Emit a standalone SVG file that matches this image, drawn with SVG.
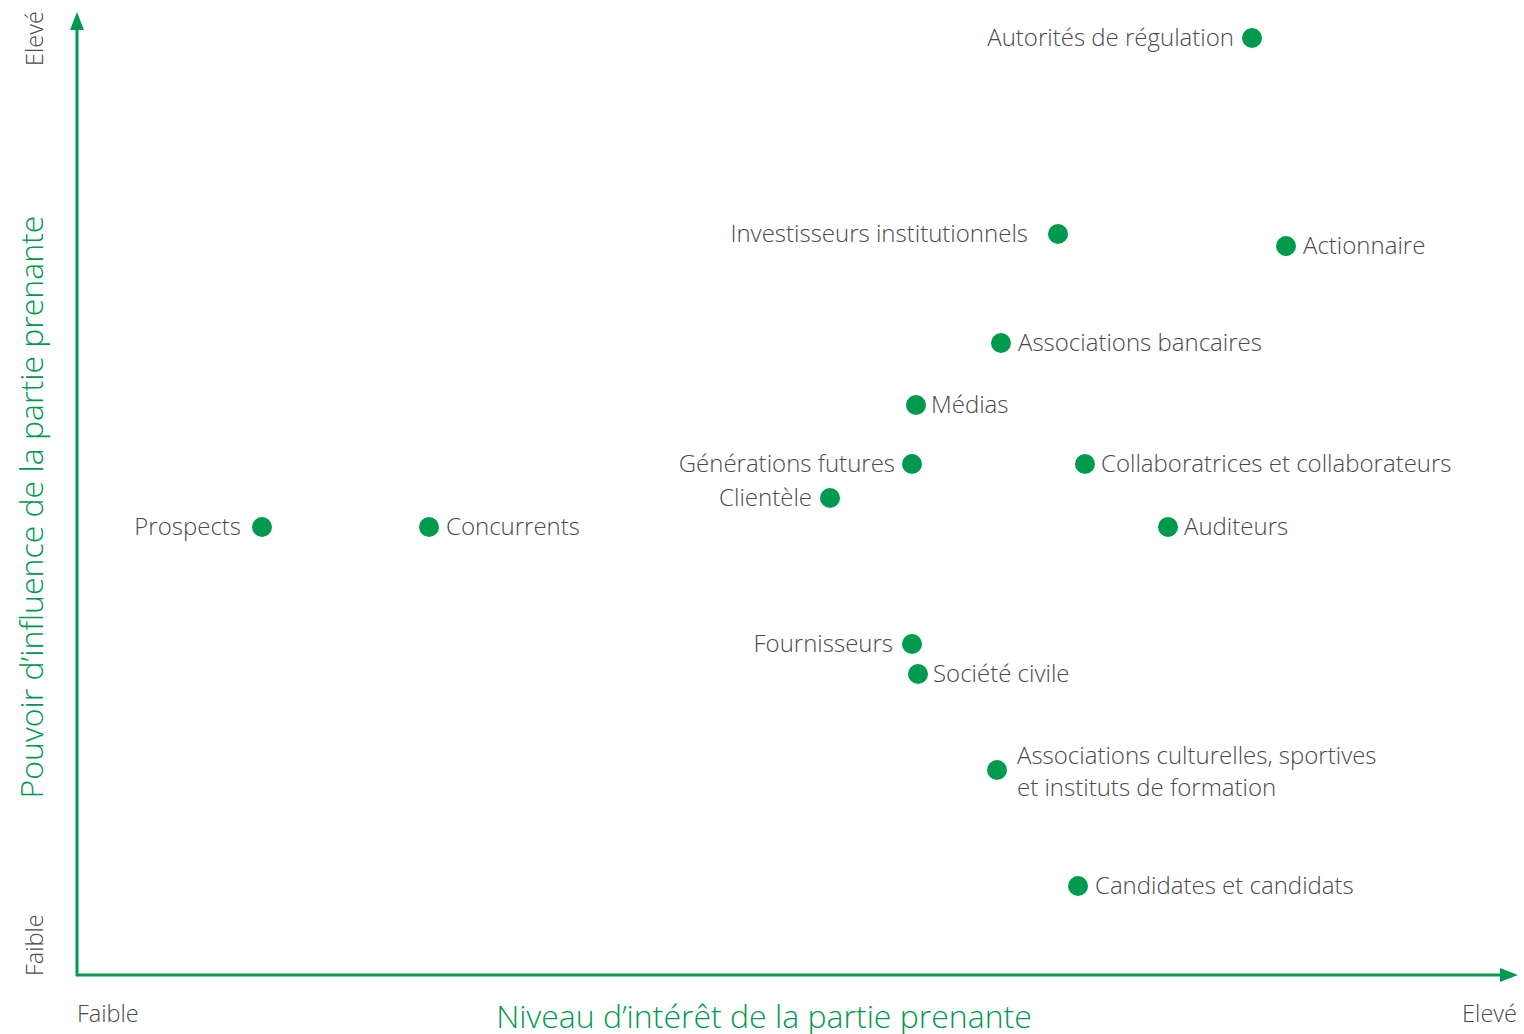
<svg xmlns="http://www.w3.org/2000/svg" width="1524" height="1034" viewBox="0 0 1524 1034">
<style>
.lbl{font-family:"Open Sans","Noto Sans","Liberation Sans",sans-serif;font-weight:300;font-size:24px;fill:#4a4a4a}
.end{text-anchor:end}
.ax{font-family:"Open Sans","Noto Sans","Liberation Sans",sans-serif;font-weight:300;font-size:23.5px;fill:#4a4a4a}
.title{font-family:"Open Sans","Noto Sans","Liberation Sans",sans-serif;font-weight:300;font-size:32px;fill:#009a4e;text-anchor:middle}
.dot{fill:#009a4e}
.axis{stroke:#009a4e;stroke-width:3;fill:none}
</style>
<defs>
<marker id="arrh" viewBox="0 0 18 14" markerWidth="18" markerHeight="14" refX="0" refY="7" orient="auto" markerUnits="userSpaceOnUse">
<path d="M0,0 L18,7 L0,14 Z" fill="#009a4e"/>
</marker>
</defs>
<rect width="1524" height="1034" fill="#ffffff"/>
<g id="connectors">
<line class="axis" x1="77" y1="976" x2="77" y2="30" marker-end="url(#arrh)"/>
<line class="axis" x1="76" y1="975" x2="1500" y2="975" marker-end="url(#arrh)"/>
</g>
<g id="axis-labels">
<text class="ax" transform="translate(43,66) rotate(-90)">Elevé</text>
<text class="ax" transform="translate(43,976) rotate(-90)">Faible</text>
<text class="ax" x="77" y="1022">Faible</text>
<text class="ax" x="1517" y="1022" text-anchor="end">Elevé</text>
<text class="title" transform="translate(43,507) rotate(-90)">Pouvoir d’influence de la partie prenante</text>
<text class="title" x="764" y="1028">Niveau d’intérêt de la partie prenante</text>
</g>
<g id="n-autorites"><circle class="dot" cx="1252" cy="38" r="10"/><text class="lbl end" x="1234" y="46">Autorités de régulation</text></g>
<g id="n-investisseurs"><circle class="dot" cx="1058" cy="234" r="10"/><text class="lbl end" x="1028" y="242">Investisseurs institutionnels</text></g>
<g id="n-actionnaire"><circle class="dot" cx="1286" cy="246" r="10"/><text class="lbl" x="1303" y="254">Actionnaire</text></g>
<g id="n-assoc-bancaires"><circle class="dot" cx="1001" cy="343" r="10"/><text class="lbl" x="1018" y="351">Associations bancaires</text></g>
<g id="n-medias"><circle class="dot" cx="916" cy="405" r="10"/><text class="lbl" x="931" y="413">Médias</text></g>
<g id="n-generations"><circle class="dot" cx="912" cy="464" r="10"/><text class="lbl end" x="895" y="472">Générations futures</text></g>
<g id="n-collaborateurs"><circle class="dot" cx="1085" cy="464" r="10"/><text class="lbl" x="1101" y="472">Collaboratrices et collaborateurs</text></g>
<g id="n-clientele"><circle class="dot" cx="830" cy="498" r="10"/><text class="lbl end" x="812" y="506">Clientèle</text></g>
<g id="n-prospects"><circle class="dot" cx="262" cy="527" r="10"/><text class="lbl end" x="241" y="535">Prospects</text></g>
<g id="n-concurrents"><circle class="dot" cx="429" cy="527" r="10"/><text class="lbl" x="446" y="535">Concurrents</text></g>
<g id="n-auditeurs"><circle class="dot" cx="1168" cy="527" r="10"/><text class="lbl" x="1184" y="535">Auditeurs</text></g>
<g id="n-fournisseurs"><circle class="dot" cx="912" cy="644" r="10"/><text class="lbl end" x="893" y="652">Fournisseurs</text></g>
<g id="n-societe"><circle class="dot" cx="918" cy="674" r="10"/><text class="lbl" x="933" y="682">Société civile</text></g>
<g id="n-assoc-culturelles"><circle class="dot" cx="997" cy="770" r="10"/><text class="lbl" x="1017" y="764">Associations culturelles, sportives</text><text class="lbl" x="1017" y="796">et instituts de formation</text></g>
<g id="n-candidats"><circle class="dot" cx="1078" cy="886" r="10"/><text class="lbl" x="1095" y="894">Candidates et candidats</text></g>
</svg>
